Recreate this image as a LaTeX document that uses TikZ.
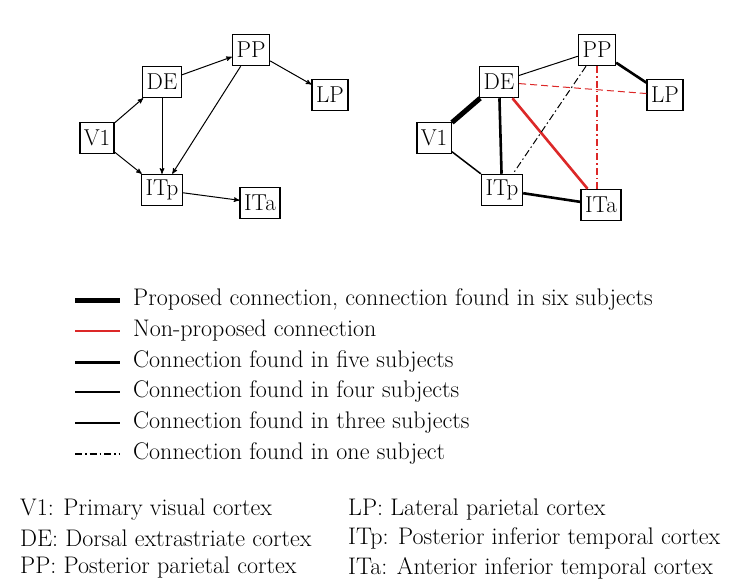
\documentclass[tikz,border=0pt]{standalone}
\usepackage{tikz}
\usetikzlibrary{arrows}
\definecolor{nred}{RGB}{220,40,40}
\begin{document}
\begin{tikzpicture}[x=1pt,y=-1pt,
  area/.style={draw,line width=1.5pt,inner xsep=4pt,inner ysep=2.5pt,minimum height=31pt,font=\fontsize{23}{25}\selectfont},
  link/.style={->,>=stealth',line width=1pt},
  dd/.style={dash pattern=on 7pt off 3pt on 1.5pt off 3pt},
  txt/.style={anchor=west,inner sep=0pt,font=\fontsize{24}{26}\selectfont}]
\useasboundingbox (0,0) rectangle (756,587);
% directed graph
\node[area] (pp) at (251,50) {PP};
\node[area] (de) at (162,82) {DE};
\node[area] (lp) at (330,95) {LP};
\node[area] (v1) at (97,138) {V1};
\node[area] (itp) at (162,190) {ITp};
\node[area] (ita) at (260,203) {ITa};
\draw[link] (de) -- (pp);
\draw[link] (v1) -- (de);
\draw[link] (v1) -- (itp);
\draw[link] (de) -- (itp);
\draw[link] (pp) -- (itp);
\draw[link] (pp) -- (lp);
\draw[link] (itp) -- (ita);
% found connections
\node[area] (pp2) at (597,50) {PP};
\node[area] (de2) at (499,82) {DE};
\node[area] (lp2) at (665,95) {LP};
\node[area] (v12) at (434,138) {V1};
\node[area] (itp2) at (502,190) {ITp};
\node[area] (ita2) at (601,205) {ITa};
\draw[line width=5pt] (v12) -- (de2);
\draw[line width=1pt] (de2) -- (pp2);
\draw[line width=2.6pt] (pp2) -- (lp2);
\draw[line width=2.6pt] (de2) -- (itp2);
\draw[line width=2.6pt] (itp2) -- (ita2);
\draw[line width=1.5pt] (v12) -- (itp2);
\draw[nred,line width=2.6pt] (de2) -- (ita2);
\draw[nred,dash pattern=on 7pt off 4pt,line width=1pt] (de2) -- (lp2);
\draw[dd,line width=1pt] (pp2) -- (itp2);
\draw[nred,dd,line width=1.2pt] (pp2.south) -- (pp2.south |- ita2.north);
% legend
\foreach \y/\w/\c/\s/\t in {
  300/5pt/black/solid/{Proposed connection, connection found in six subjects},
  331/2.6pt/nred/solid/{Non-proposed connection},
  362/3pt/black/solid/{Connection found in five subjects},
  392/2.6pt/black/solid/{Connection found in four subjects},
  423/1.5pt/black/solid/{Connection found in three subjects},
  454/1.2pt/black/dd/{Connection found in one subject}} {
  \draw[line width=\w,\c,\s] (75,\y) -- (120,\y);
  \node[txt] at (133,\y) {\t};
}
\node[txt] (k1) at (20,510) {V1: Primary visual cortex};
\node[txt] (k2) at (20,538) {DE: Dorsal extrastriate cortex};
\node[txt] (k3) at (20,568) {PP: Posterior parietal cortex};
\node[txt] (k4) at (348,510) {LP: Lateral parietal cortex};
\node[txt] (k5) at (348,538) {ITp: Posterior inferior temporal cortex};
\node[txt] (k6) at (348,568) {ITa: Anterior inferior temporal cortex};
\end{tikzpicture}
\end{document}
